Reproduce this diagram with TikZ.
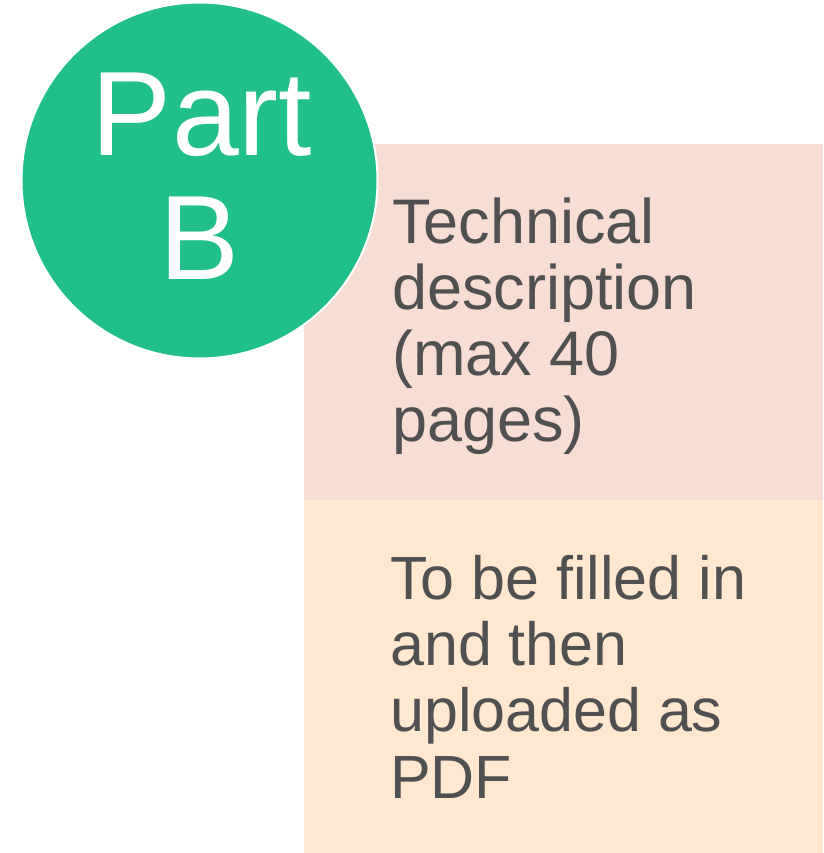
\documentclass[tikz,border=0pt]{standalone}
\usepackage{fontspec}
\setmainfont{Liberation Sans}
\definecolor{partgreen}{RGB}{33,192,139}
\definecolor{pinkbox}{RGB}{247,221,211}
\definecolor{peachbox}{RGB}{254,232,208}
\definecolor{txtgray}{RGB}{80,80,80}
\tikzset{
  boxtext/.style={anchor=base west, inner sep=0pt, align=left, text=txtgray,
    font=\fontsize{63}{66}\selectfont},
  parttext/.style={anchor=base, inner sep=0pt, text=white,
    font=\fontsize{120}{123}\selectfont}
}
\begin{document}
\begin{tikzpicture}[x=1pt,y=-1pt]
\useasboundingbox (0,0) rectangle (823,853);
\fill[white] (0,0) rectangle (823,853);
\fill[pinkbox] (304,144) rectangle (823,500);
\fill[peachbox] (304,500) rectangle (823,853);
\node[boxtext] (tech) at (392,441) {Technical\\description\\(max 40\\pages)};
\node[boxtext, font=\fontsize{61}{66.3}\selectfont] (fill) at (390,798) {To be filled in\\and then\\uploaded as\\PDF};
\node[circle, fill=partgreen, draw=white, line width=2pt, minimum size=356pt, inner sep=0pt] (circ) at (199.5,180.5) {};
\node[parttext] (part) at (202,156) {Part};
\node[parttext] (bee) at (200,279) {B};
\end{tikzpicture}
\end{document}
